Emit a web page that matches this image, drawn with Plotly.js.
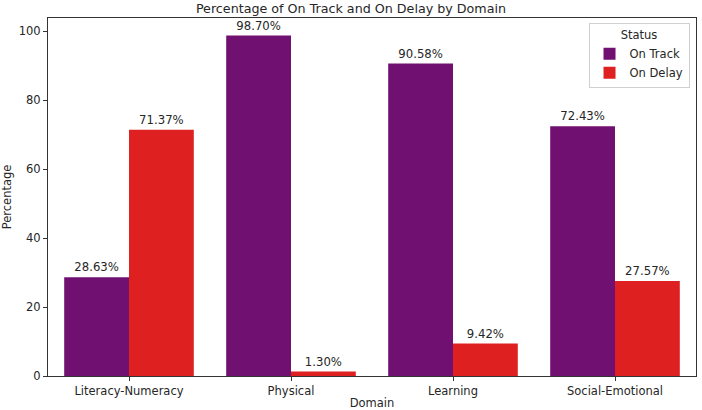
<!DOCTYPE html>
<html><head><meta charset="utf-8">
<script src="https://cdn.plot.ly/plotly-3.0.1.min.js"></script>
<style>html,body{margin:0;padding:0;background:#fff}#c{width:702px;height:410px}</style>
</head><body><div id="c"></div>
<script>
const domains = ["Literacy-Numeracy", "Physical", "Learning", "Social-Emotional"];
const onTrack = [28.63, 98.70, 90.58, 72.43];
const onDelay = [71.37, 1.30, 9.42, 27.57];
const seriesNames = ["On Track", "On Delay"];
const yTicks = [0, 20, 40, 60, 80, 100];

const font = {family: "DejaVu Sans, sans-serif", size: 11.5, color: "#262626"};
const mk = (name, y, color) => ({
  type: "bar", name: name, x: domains, y: y,
  marker: {color: color, line: {width: 0}},
  texttemplate: "%{y:.2f}%", textposition: "outside", cliponaxis: false,
  textfont: {family: font.family, size: 11.7, color: "#262626"},
  hoverinfo: "none"
});
const data = [mk(seriesNames[0], onTrack, "#701070"), mk(seriesNames[1], onDelay, "#df2020")];
const layout = {
  width: 702, height: 410,
  margin: {l: 48, r: 6, t: 18, b: 34},
  paper_bgcolor: "#fff", plot_bgcolor: "#fff",
  font: font,
  barmode: "group", bargap: 0.2, bargroupgap: 0,
  title: {text: "Percentage of On Track and On Delay by Domain", x: 0.5, xanchor: "center", y: 0.99, yanchor: "top", font: {family: font.family, size: 12.7, color: "#262626"}},
  xaxis: {
    showgrid: false, showline: true, mirror: true, linecolor: "#333", linewidth: 1,
    ticks: "outside", ticklen: 4, tickcolor: "#333", tickfont: {size: 11.5},
    range: [-0.5, 3.5],
    title: {text: "Domain", standoff: 3, font: {size: 11.5}}
  },
  yaxis: {
    showgrid: false, zeroline: false, showline: true, mirror: true, linecolor: "#333", linewidth: 1,
    ticks: "outside", ticklen: 4, tickcolor: "#333", tickfont: {size: 11.5},
    range: [0, 103.8], tickvals: yTicks,
    title: {text: "Percentage", standoff: 6, font: {size: 11.5}}
  },
  showlegend: true,
  legend: {
    x: 0.99, xanchor: "right", y: 0.985, yanchor: "top",
    bgcolor: "rgba(255,255,255,0.8)", bordercolor: "#d0d0d0", borderwidth: 1,
    title: {text: "Status", side: "top center", font: {size: 11.5}},
    font: {size: 11.5}, traceorder: "normal", tracegroupgap: 0
  }
};
Plotly.newPlot("c", data, layout, {displayModeBar: false, staticPlot: true});
</script></body></html>
